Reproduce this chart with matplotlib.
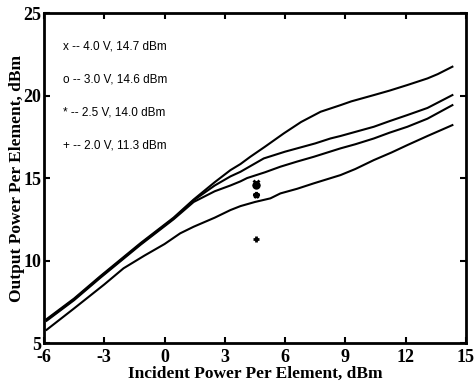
import matplotlib.pyplot as plt

plt.rcParams["axes.unicode_minus"] = False

# curves: output power vs incident power per element
x_a = [-5.87, -4.5, -3.2, -1.2, 0.45, 1.45, 2.5, 3.28, 3.78, 4.27, 5.0, 5.94, 6.8, 7.77, 8.76, 9.3, 10.42, 11.2, 12.09, 13.09, 13.6, 14.33]
y_a = [6.45, 7.7, 9.05, 11.05, 12.6, 13.7, 14.75, 15.48, 15.85, 16.29, 16.9, 17.71, 18.4, 19.02, 19.42, 19.65, 20.03, 20.3, 20.64, 21.04, 21.3, 21.75]

x_b = [-5.87, -4.5, -3.2, -1.2, 0.45, 1.45, 2.5, 3.28, 3.78, 4.94, 6.0, 6.6, 7.5, 8.26, 8.76, 9.5, 10.42, 11.2, 12.09, 13.09, 14.33]
y_b = [6.4, 7.65, 9.0, 11.0, 12.55, 13.65, 14.55, 15.1, 15.38, 16.19, 16.6, 16.8, 17.1, 17.4, 17.55, 17.8, 18.11, 18.45, 18.82, 19.25, 20.03]

x_c = [-5.87, -4.5, -3.2, -1.2, 0.45, 1.45, 2.5, 3.28, 3.78, 4.11, 5.0, 5.77, 6.6, 7.43, 8.76, 9.5, 10.42, 11.2, 12.09, 13.09, 14.33]
y_c = [6.35, 7.6, 8.95, 10.95, 12.5, 13.55, 14.2, 14.55, 14.8, 15.0, 15.35, 15.69, 16.0, 16.29, 16.8, 17.05, 17.4, 17.75, 18.11, 18.6, 19.42]

x_d = [-5.87, -4.5, -3.0, -2.04, -1.0, 0.0, 0.78, 1.45, 2.5, 3.28, 3.78, 4.5, 5.27, 5.77, 6.6, 7.43, 8.76, 9.5, 10.42, 11.3, 12.09, 13.09, 14.33]
y_d = [5.8, 7.1, 8.55, 9.53, 10.3, 11.0, 11.65, 12.05, 12.6, 13.06, 13.3, 13.55, 13.77, 14.07, 14.35, 14.68, 15.18, 15.55, 16.09, 16.55, 17.0, 17.55, 18.21]

# measured points at 4.55 dBm incident
pt_x = 4.55
pt_markers = ["x", "o", "*", "+"]
pt_y = [14.7, 14.6, 14.0, 11.3]
labels = ["x -- 4.0 V, 14.7 dBm", "o -- 3.0 V, 14.6 dBm",
          "* -- 2.5 V, 14.0 dBm", "+ -- 2.0 V, 11.3 dBm"]
label_y = [23, 21, 19, 17]

fig = plt.figure(figsize=(4.74, 3.85), dpi=100)
ax = fig.add_axes([0.0928, 0.109, 0.890, 0.857])

for xs, ys in [(x_a, y_a), (x_b, y_b), (x_c, y_c), (x_d, y_d)]:
    ax.plot(xs, ys, color="black", lw=1.5)

for m, yv in zip(pt_markers, pt_y):
    ax.plot(pt_x, yv, marker=m, color="black", ms=4, mew=2, mfc="black")

for lab, yv in zip(labels, label_y):
    ax.text(-5.05, yv, lab, fontsize=8.5, family="Liberation Sans", va="center")

ax.set_xlim(-6, 15)
ax.set_ylim(5, 25)
ax.set_xticks([-6, -3, 0, 3, 6, 9, 12, 15])
ax.set_yticks([5, 10, 15, 20, 25])
ax.tick_params(direction="in", length=4, width=1.5, top=True, right=True)
ax.tick_params(axis="x", pad=4)
ax.tick_params(axis="y", pad=2)
for lab in ax.get_xticklabels() + ax.get_yticklabels():
    lab.set_family("Liberation Serif")
    lab.set_fontweight("bold")
    lab.set_fontsize(13)
for s in ax.spines.values():
    s.set_linewidth(2)

ax.set_xlabel("Incident Power Per Element, dBm", family="Liberation Serif",
              fontweight="bold", fontsize=12.5, labelpad=0)
ax.set_ylabel("Output Power Per Element, dBm", family="Liberation Serif",
              fontweight="bold", fontsize=12.5, labelpad=-1)

fig.savefig("out.png", dpi=100)
